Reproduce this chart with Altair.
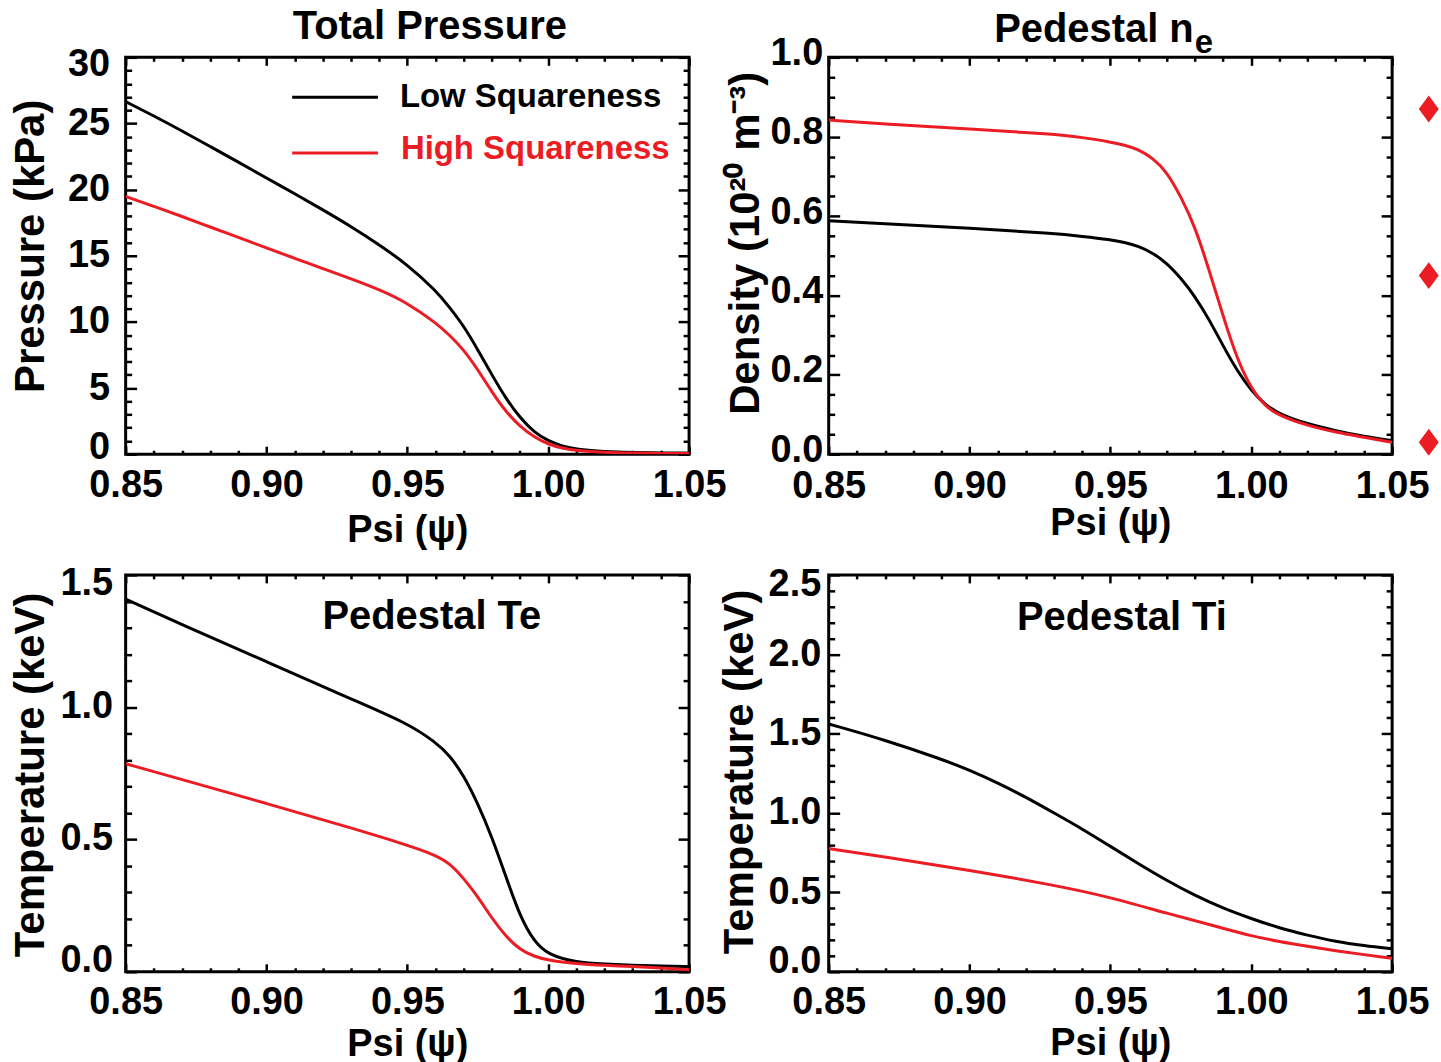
import altair as alt
import pandas as pd

FONT = "Liberation Sans"
RED = "#ec1c24"
series_names = ["Low Squareness", "High Squareness"]
series_colors = ["#000000", RED]

x_major = [0.85, 0.90, 0.95, 1.00, 1.05]
x_minor = [0.86, 0.87, 0.88, 0.89, 0.91, 0.92, 0.93, 0.94, 0.96, 0.97, 0.98, 0.99,
           1.01, 1.02, 1.03, 1.04]

# ---- Total pressure (kPa)
p_psi = [0.85, 0.86, 0.87, 0.88, 0.89, 0.90, 0.91, 0.92, 0.93, 0.94, 0.95, 0.96, 0.965,
         0.97, 0.975, 0.98, 0.985, 0.99, 0.995, 1.00, 1.005, 1.01, 1.02, 1.03, 1.04, 1.05]
p_low = [26.65, 25.57, 24.44, 23.26, 22.08, 20.87, 19.69, 18.48, 17.22, 15.84, 14.33, 12.4,
         11.1, 9.7, 7.9, 6.0, 4.2, 2.75, 1.65, 1.0, 0.6, 0.38, 0.18, 0.12, 0.10, 0.08]
p_high = [19.49, 18.73, 17.98, 17.17, 16.39, 15.59, 14.81, 14.03, 13.25, 12.45, 11.44, 9.95,
          9.0, 7.9, 6.4, 4.7, 3.2, 2.1, 1.3, 0.75, 0.45, 0.28, 0.13, 0.08, 0.06, 0.05]

# ---- Pedestal ne (1e20 m^-3)
n_psi = [0.85, 0.87, 0.90, 0.93, 0.94, 0.95, 0.955, 0.96, 0.965, 0.97, 0.975, 0.98, 0.985,
         0.99, 0.995, 1.00, 1.005, 1.01, 1.02, 1.03, 1.04, 1.05]
n_low = [0.588, 0.581, 0.570, 0.556, 0.549, 0.541, 0.534, 0.524, 0.507, 0.482, 0.444, 0.398,
         0.340, 0.273, 0.210, 0.160, 0.124, 0.101, 0.076, 0.059, 0.045, 0.034]
n_high = [0.842, 0.832, 0.819, 0.807, 0.798, 0.787, 0.779, 0.768, 0.746, 0.712, 0.649, 0.574,
          0.465, 0.348, 0.239, 0.165, 0.120, 0.097, 0.072, 0.055, 0.043, 0.030]
n_marker_psi = [1.063, 1.063, 1.063]
n_marker_val = [0.87, 0.45, 0.03]

# ---- Pedestal Te (keV)
te_psi = [0.85, 0.87, 0.90, 0.93, 0.95, 0.96, 0.965, 0.97, 0.975, 0.98, 0.985, 0.99, 0.995,
          1.00, 1.01, 1.02, 1.03, 1.04, 1.05]
te_low = [1.408, 1.312, 1.172, 1.031, 0.940, 0.868, 0.818, 0.742, 0.636, 0.510, 0.359, 0.209,
          0.114, 0.064, 0.035, 0.029, 0.025, 0.022, 0.020]
te_high = [0.786, 0.727, 0.636, 0.544, 0.479, 0.441, 0.410, 0.353, 0.284, 0.202, 0.133, 0.083,
           0.058, 0.043, 0.030, 0.024, 0.020, 0.014, 0.008]

# ---- Pedestal Ti (keV)
ti_psi = [0.85, 0.87, 0.89, 0.90, 0.91, 0.92, 0.93, 0.94, 0.95, 0.96, 0.97, 0.98, 0.99, 1.00,
          1.01, 1.02, 1.03, 1.04, 1.05]
ti_low = [1.561, 1.46, 1.34, 1.27, 1.19, 1.10, 1.00, 0.90, 0.79, 0.68, 0.575, 0.48, 0.40,
          0.335, 0.275, 0.23, 0.19, 0.165, 0.145]
ti_high_psi = [0.85, 0.87, 0.90, 0.93, 0.95, 0.97, 0.99, 1.00, 1.01, 1.02, 1.03, 1.04, 1.05]
ti_high = [0.776, 0.724, 0.640, 0.546, 0.470, 0.368, 0.274, 0.226, 0.190, 0.160, 0.132, 0.108,
           0.085]

W, H = 565, 398
TITLE_SIZE = 40


def tick_axis(orient, values, size):
    return alt.Axis(orient=orient, values=values, labels=False, ticks=True, tickSize=size,
                    tickWidth=2.5, tickColor="black", offset=-size, domain=False,
                    grid=False, title=None)


def text_layer(label, x, y, size=TITLE_SIZE, align="center", color="black"):
    return alt.Chart(pd.DataFrame({"label": [label]})).mark_text(
        font=FONT, fontSize=size, fontWeight="bold", align=align,
        baseline="alphabetic", color=color, clip=False
    ).encode(x=alt.value(x), y=alt.value(y), text="label:N")


def panel(psi_low, low, psi_high, high, y_domain, y_major, y_minor, y_fmt, y_title,
          y_label_pad, y_title_pad, flush, flush_off, y_label_off, y_title_y,
          x_label_pad, x_title_pad, extras):
    df = pd.DataFrame({
        "psi": list(psi_low) + list(psi_high),
        "value": list(low) + list(high),
        "series": [series_names[0]] * len(psi_low) + [series_names[1]] * len(psi_high),
    })
    xs = alt.Scale(domain=[0.85, 1.05], nice=False, zero=False)
    ys = alt.Scale(domain=y_domain, nice=False, zero=False)
    yaxis_kw = dict(values=y_major, format=y_fmt, title=y_title, ticks=False, tickSize=0,
                    domain=False, grid=False, labelPadding=y_label_pad,
                    titlePadding=y_title_pad, labelOverlap=False, labelFlush=flush,
                    labelOffset=y_label_off, titleFontSize=42, titleY=y_title_y)
    if flush:
        yaxis_kw["labelFlushOffset"] = flush_off
    main = alt.Chart(df).mark_line(strokeWidth=3, interpolate="basis", clip=True).encode(
        x=alt.X("psi:Q", scale=xs, axis=alt.Axis(
            values=x_major, format=".2f", title="Psi (ψ)", ticks=False, tickSize=0,
            domain=False, grid=False, labelPadding=x_label_pad, titlePadding=x_title_pad,
            labelOverlap=False, labelFlush=False, titleFontSize=38)),
        y=alt.Y("value:Q", scale=ys, axis=alt.Axis(**yaxis_kw)),
        color=alt.Color("series:N", scale=alt.Scale(domain=series_names, range=series_colors),
                        legend=None),
        detail="series:N",
    )
    layers = [main]
    specs = [("bottom", x_major, 8, "left", y_major, 11),
             ("bottom", x_minor, 4, "left", y_minor, 6),
             ("top", x_major, 8, "right", y_major, 11),
             ("top", x_minor, 4, "right", y_minor, 6)]
    for xo, xv, xsz, yo, yv, ysz in specs:
        layers.append(alt.Chart(df).mark_line(opacity=0).encode(
            x=alt.X("psi:Q", scale=xs, axis=tick_axis(xo, xv, xsz)),
            y=alt.Y("value:Q", scale=ys, axis=tick_axis(yo, yv, ysz)),
            detail="series:N",
        ))
    for e in extras:
        layers.append(e(xs, ys))
    return alt.layer(*layers).resolve_axis(x="independent", y="independent").properties(
        width=W, height=H)


def legend_layers(xs, ys):
    one = pd.DataFrame({"label": [series_names[0]]})
    two = pd.DataFrame({"label": [series_names[1]]})
    r1 = alt.Chart(one).mark_rule(color="black", strokeWidth=3).encode(
        x=alt.value(167), x2=alt.value(253), y=alt.value(40))
    r2 = alt.Chart(two).mark_rule(color=RED, strokeWidth=3).encode(
        x=alt.value(167), x2=alt.value(253), y=alt.value(96))
    t1 = text_layer(series_names[0], 275, 50, size=33, align="left")
    t2 = text_layer(series_names[1], 276, 102, size=33, align="left", color=RED)
    return alt.layer(r1, r2, t1, t2)


def title_tp(xs, ys):
    return text_layer("Total Pressure", 305, -18)


def title_ne(xs, ys):
    return alt.layer(text_layer("Pedestal n", 366, -15, align="right"),
                     text_layer("e", 367, -4, size=33, align="left"))


def markers_ne(xs, ys):
    mk = pd.DataFrame({"psi": n_marker_psi, "value": n_marker_val})
    return alt.Chart(mk).mark_point(
        shape="M0,-1L0.74,0L0,1L-0.74,0Z", filled=True, size=729, color=RED, opacity=1,
        clip=False
    ).encode(x=alt.X("psi:Q", scale=xs, axis=None), y=alt.Y("value:Q", scale=ys, axis=None))


def title_te(xs, ys):
    return text_layer("Pedestal Te", 307, 54)


def title_ti(xs, ys):
    return text_layer("Pedestal Ti", 294, 55)


p1 = panel(p_psi, p_low, p_psi, p_high, [0, 30], [0, 5, 10, 15, 20, 25, 30],
           [1, 2, 3, 4, 6, 7, 8, 9, 11, 12, 13, 14, 16, 17, 18, 19, 21, 22, 23, 24, 26, 27, 28, 29],
           "d", "Pressure (kPa)", 16, 15, True, 12, 0, 189, 12, 8, [legend_layers, title_tp])
p2 = panel(n_psi, n_low, n_psi, n_high, [0, 1.0], [0.0, 0.2, 0.4, 0.6, 0.8, 1.0],
           [0.05, 0.1, 0.15, 0.25, 0.3, 0.35, 0.45, 0.5, 0.55, 0.65, 0.7, 0.75, 0.85, 0.9, 0.95],
           ".1f", "Density (10²⁰ m⁻³)", 6, 3, False, 0, -4, 186, 13, 0, [title_ne, markers_ne])
p3 = panel(te_psi, te_low, te_psi, te_high, [0, 1.5], [0.0, 0.5, 1.0, 1.5],
           [0.1, 0.2, 0.3, 0.4, 0.6, 0.7, 0.8, 0.9, 1.1, 1.2, 1.3, 1.4],
           ".1f", "Temperature (keV)", 13, 8, True, 9, -1, 200, 12, 4, [title_te])
p4 = panel(ti_psi, ti_low, ti_high_psi, ti_high, [0, 2.5],
           [0.0, 0.5, 1.0, 1.5, 2.0, 2.5],
           [0.1, 0.2, 0.3, 0.4, 0.6, 0.7, 0.8, 0.9, 1.1, 1.2, 1.3, 1.4, 1.6, 1.7, 1.8, 1.9,
            2.1, 2.2, 2.3, 2.4],
           ".1f", "Temperature (keV)", 8, 7, True, 9, 0, 197, 12, 3, [title_ti])

chart = alt.concat(p1, p2, p3, p4, columns=2, spacing={"row": 121, "column": 140},
                   bounds="flush").properties(
    padding={"left": 7, "top": 4, "right": 0, "bottom": 0},
    background="white",
).configure_view(stroke="black", strokeWidth=3).configure_axis(
    labelFont=FONT, titleFont=FONT, labelFontSize=38, titleFontSize=38,
    labelFontWeight="bold", titleFontWeight="bold", labelColor="black", titleColor="black"
)

chart.save("out.html", embed_options={"renderer": "svg", "actions": False})
